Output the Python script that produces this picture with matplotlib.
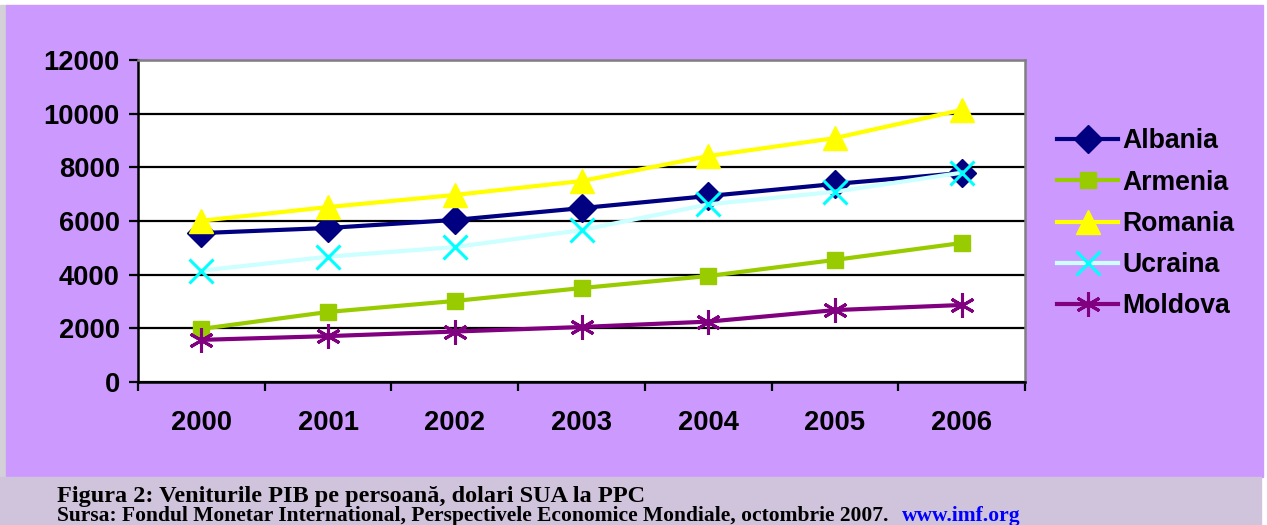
import matplotlib
matplotlib.use("Agg")
import matplotlib.pyplot as plt
from matplotlib.patches import Rectangle
import numpy as np

years = ["2000", "2001", "2002", "2003", "2004", "2005", "2006"]
albania = [5550, 5740, 6040, 6480, 6930, 7380, 7790]
armenia = [1980, 2610, 3020, 3500, 3950, 4550, 5180]
romania = [6010, 6520, 6970, 7490, 8420, 9090, 10140]
ucraina = [4150, 4670, 5030, 5660, 6620, 7090, 7800]
moldova = [1570, 1710, 1880, 2050, 2250, 2680, 2870]

W, H = 1267, 525
fig = plt.figure(figsize=(W / 100, H / 100), dpi=100, facecolor="white")

# background panels (pixel coords converted to figure fraction)
def px_rect(x0, y0, x1, y1, color):
    fig.patches.append(Rectangle((x0 / W, 1 - y1 / H), (x1 - x0) / W, (y1 - y0) / H,
                                 transform=fig.transFigure, color=color, zorder=-10))

px_rect(0, 5, 6, 525, "#d4d0d8")
px_rect(6, 5, 1263, 477, "#cc99ff")
px_rect(0, 477, 1261, 525, "#d0c4dc")

ax = fig.add_axes([138 / W, 1 - 382 / H, (1025 - 138) / W, (382 - 60) / H])
ax.set_facecolor("white")

x = np.arange(len(years))
ax.plot(x, albania, color="#000080", lw=3, marker="D", ms=14.5, label="Albania", zorder=3)
ax.plot(x, armenia, color="#99cc00", lw=3, marker="s", ms=11, label="Armenia", zorder=3)
ax.plot(x, romania, color="#ffff00", lw=3, marker="^", ms=17, label="Romania", zorder=3)
ax.plot(x, ucraina, color="#ccffff", lw=3, marker="x", ms=17, mew=2.2,
        mec="#00ffff", label="Ucraina", zorder=3)
ax.plot(x, moldova, color="#800080", lw=3, marker=(6, 2, 0), ms=18, mew=2.2,
        label="Moldova", zorder=3)

ax.set_xlim(-0.5, len(years) - 0.5)
ax.set_ylim(0, 12000)
ax.set_yticks(np.arange(0, 12001, 2000))
ax.yaxis.grid(True, color="black", lw=1.6)
ax.set_axisbelow(True)

ax.set_xticks(np.arange(-0.5, len(years), 1))
ax.set_xticklabels([])
ax.set_xticks(x, minor=True)
ax.set_xticklabels(years, minor=True)
ax.tick_params(axis="x", which="major", length=6.5, width=1.6, direction="out", color="black")
ax.tick_params(axis="x", which="minor", length=0, pad=20.5)
ax.tick_params(axis="y", length=6.5, width=1.6, direction="out", pad=6.5)
for lab in ax.get_xticklabels(minor=True) + ax.get_yticklabels():
    lab.set_fontfamily("Liberation Sans")
    lab.set_fontweight("bold")
    lab.set_fontsize(19.7)

for s in ["left", "bottom"]:
    ax.spines[s].set_color("black")
    ax.spines[s].set_linewidth(1.8)
for s in ["top", "right"]:
    ax.spines[s].set_color("#808080")
    ax.spines[s].set_linewidth(1.8)

leg = ax.legend(loc="center left", bbox_to_anchor=(1.024, 0.491), frameon=False,
                prop={"family": "Liberation Sans", "weight": "bold", "size": 19.2},
                handlelength=2.3, handletextpad=0.16, labelspacing=0.57, borderaxespad=0)

cap = dict(family="Liberation Serif", weight="bold")
fig.text(57 / W, 1 - 502 / H, "Figura 2: Veniturile PIB pe persoană, dolari SUA la PPC",
         va="baseline", ha="left", fontsize=17.5, **cap)
t2 = fig.text(57 / W, 1 - 521.5 / H,
              "Sursa: Fondul Monetar International, Perspectivele Economice Mondiale, octombrie 2007.",
              va="baseline", ha="left", fontsize=15.45, **cap)
fig.canvas.draw()
bb = t2.get_window_extent()
fig.text(bb.x1 / W + 13 / W, 1 - 521.5 / H, "www.imf.org", color="#0000ff",
         va="baseline", ha="left", fontsize=15.45, **cap)

fig.savefig("out.png", dpi=100, facecolor=fig.get_facecolor())
